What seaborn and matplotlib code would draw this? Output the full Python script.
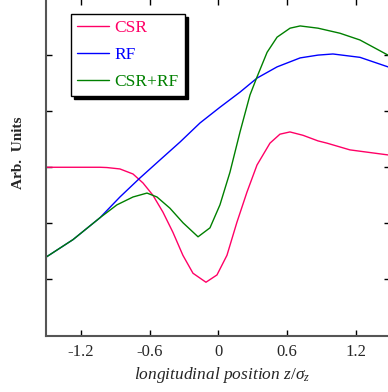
import matplotlib
matplotlib.use('Agg')
import matplotlib.pyplot as plt
import pandas as pd
import seaborn as sns

# ── Data (arb. units) ─────────────────────────────────────────────────────────
csr_z = [-1.5, -1.032, -0.971, -0.858, -0.744, -0.657, -0.570, -0.483,
         -0.396, -0.309, -0.221, -0.108, -0.012, 0.075, 0.162, 0.250,
         0.337, 0.450, 0.537, 0.624, 0.738, 0.869, 0.947, 1.147, 1.479]
csr_y = [3.00, 3.00, 2.995, 2.97, 2.88, 2.72, 2.50, 2.20,
         1.84, 1.43, 1.11, 0.95, 1.08, 1.43, 2.02, 2.56,
         3.04, 3.43, 3.59, 3.63, 3.57, 3.47, 3.43, 3.31, 3.22]

rf_z = [-1.5, -1.267, -1.032, -0.858, -0.683, -0.509, -0.334, -0.160,
        0.014, 0.189, 0.337, 0.512, 0.713, 0.869, 0.999, 1.235, 1.479]
rf_y = [1.40, 1.71, 2.10, 2.47, 2.81, 3.13, 3.45, 3.79,
        4.07, 4.34, 4.59, 4.79, 4.95, 5.00, 5.02, 4.96, 4.79]

sum_z = [-1.5, -1.267, -1.032, -0.884, -0.744, -0.622, -0.535, -0.422,
         -0.308, -0.177, -0.073, 0.014, 0.101, 0.189, 0.276, 0.337,
         0.425, 0.512, 0.625, 0.713, 0.869, 1.060, 1.234, 1.479]
sum_y = [1.40, 1.71, 2.10, 2.33, 2.47, 2.54, 2.47, 2.27,
         2.01, 1.76, 1.92, 2.33, 2.91, 3.63, 4.29, 4.61,
         5.05, 5.32, 5.48, 5.52, 5.48, 5.39, 5.27, 5.00]

x_ticks = [-1.2, -0.6, 0, 0.6, 1.2]
x_ticklabels = ['-1.2', '-0.6', '0', '0.6', '1.2']
y_ticks = [1, 2, 3, 4, 5]

labels = ['CSR', 'RF', 'CSR+RF']
colors = {'CSR': '#ff0066', 'RF': '#0000ff', 'CSR+RF': '#008000'}

df = pd.concat([
    pd.DataFrame({'z': csr_z, 'val': csr_y, 'curve': 'CSR'}),
    pd.DataFrame({'z': rf_z, 'val': rf_y, 'curve': 'RF'}),
    pd.DataFrame({'z': sum_z, 'val': sum_y, 'curve': 'CSR+RF'}),
])

# ── Style ─────────────────────────────────────────────────────────────────────
sns.set_style('ticks')
plt.rcParams['font.family'] = ['Liberation Serif', 'DejaVu Serif']
plt.rcParams['mathtext.fontset'] = 'custom'
plt.rcParams['mathtext.it'] = 'Liberation Serif:italic'
plt.rcParams['mathtext.rm'] = 'Liberation Serif'

fig = plt.figure(figsize=(3.88, 3.92), dpi=100)
ax = fig.add_axes([0.1193, 0.1441, 0.8869, 0.8584])

sns.lineplot(data=df, x='z', y='val', hue='curve', hue_order=labels,
             palette=colors, estimator=None, sort=False, lw=1.0, ax=ax,
             legend=False)

ax.set_xlim(-1.5, 1.5)
ax.set_ylim(0, 6)
ax.set_xticks(x_ticks)
ax.set_xticklabels(x_ticklabels)
ax.set_yticks(y_ticks)
ax.set_yticklabels([])
ax.tick_params(direction='in', length=4, width=1, color='black',
               top=True, right=True, labelsize=12, pad=6)

for side in ['top', 'right']:
    ax.spines[side].set_visible(False)
for side in ['left', 'bottom']:
    ax.spines[side].set_color('#555555')
    ax.spines[side].set_linewidth(1.5)

ax.set_xlabel(r'longitudinal position $z/\sigma_z$', fontsize=12.5,
              style='italic')
ax.xaxis.set_label_coords(0.51, -0.088)
ax.set_ylabel('Arb.  Units', fontsize=11, fontweight='bold')
ax.yaxis.set_label_coords(-0.062, 0.542)

handles = [plt.Line2D([], [], color=colors[k], lw=1.0) for k in labels]
leg = ax.legend(handles, labels, loc='upper left',
                bbox_to_anchor=(0.0718, 0.9554), borderaxespad=0,
                fontsize=12.5, frameon=True, fancybox=False,
                shadow={'color': 'black', 'alpha': 1.0},
                edgecolor='black', framealpha=1,
                handlelength=1.85, handletextpad=0.3, labelspacing=0.62,
                borderpad=0.35)
leg.get_frame().set_linewidth(1.0)
for txt in leg.get_texts():
    txt.set_color(colors[txt.get_text()])

fig.savefig('out.png', dpi=100)
